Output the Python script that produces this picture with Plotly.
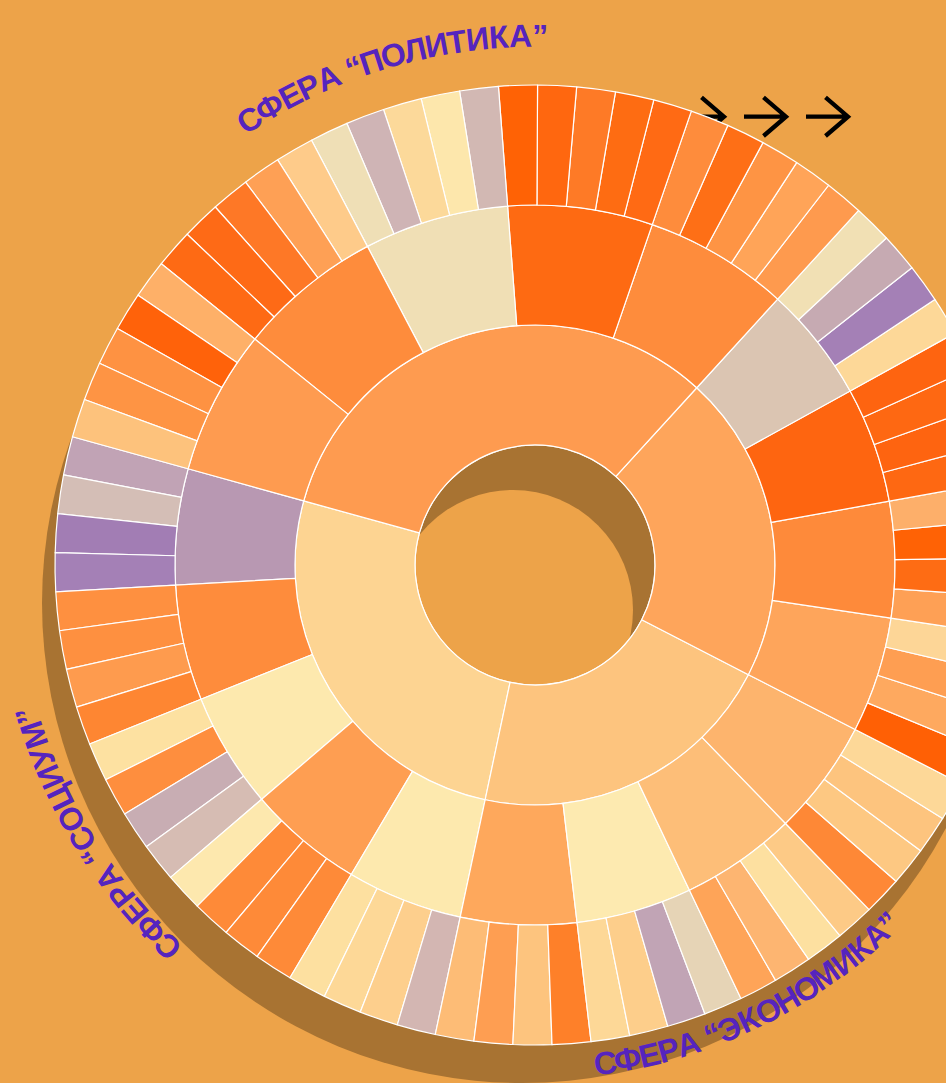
import math
import plotly.graph_objects as go

# ---------------- data (clockwise order, starting at the upper-left) ----------------
sphere_names = ["Политика", "Сфера", "Экономика", "Социум"]
sphere_colors = ["#FE9B50", "#FEA55B", "#FDC47E", "#FDD492"]

group_colors = [
    ["#FE9B50", "#FE8C3C", "#F0DFB5", "#FE6A12", "#FE8C3C"],
    ["#DBC5B2", "#FE6510", "#FE8A3A", "#FEA55B"],
    ["#FDB46D", "#FDBE78", "#FDEAB0", "#FEA85C"],
    ["#FDE9AE", "#FE9E52", "#FDE9AE", "#FE8C3C", "#B898B2"],
]

leaf_colors = [
    [
        ["#FDC27C", "#FE9444", "#FE9242", "#FF620A", "#FEB068"],
        ["#FE6A14", "#FE6A16", "#FE7826", "#FEA055", "#FECB8A"],
        ["#EFDFB6", "#CFB4B5", "#FCD99A", "#FDE7AC", "#D2B8B3"],
        ["#FF6205", "#FF670F", "#FE7A26", "#FE6C12", "#FF6A14"],
        ["#FE8C3C", "#FE6F16", "#FE9444", "#FFA458", "#FE9A4E"],
    ],
    [
        ["#F1E0B4", "#C6AAB2", "#A480B6", "#FDD898"],
        ["#FE6410", "#FE6812", "#FE6410", "#FE6812"],
        ["#FDAF6A", "#FF6205", "#FE6C14", "#FEA055"],
        ["#FDD697", "#FE9E52", "#FEA95F", "#FF6005"],
    ],
    [
        ["#FDD898", "#FDC47E", "#FDC882", "#FE8836"],
        ["#FDCA86", "#FDE0A0", "#FDB571", "#FEA458"],
        ["#E6D4B6", "#C1A4B5", "#FDCE8B", "#FDD897"],
        ["#FE8029", "#FDC47E", "#FE9E52", "#FDBC76"],
    ],
    [
        ["#D3B6B2", "#FDCF8D", "#FDD897", "#FDE0A0"],
        ["#FE8A38", "#FE8A38", "#FE8A38", "#FDE8AE"],
        ["#D6BCB3", "#C8ADB3", "#FE8E3E", "#FDE1A1"],
        ["#FE8632", "#FE9B4E", "#FE9040", "#FE9040"],
        ["#A480B6", "#A27DB4", "#D4BEB6", "#C1A3B5"],
    ],
]

leaf_values = [
    [[1, 1, 1, 1, 1], [1, 1, 1, 1, 1], [1, 1, 1, 1, 1], [1, 1, 1, 1, 1], [1, 1, 1, 1, 1]],
    [[1, 1, 1, 1], [1, 1, 1, 1], [1, 1, 1, 1], [1, 1, 1, 1]],
    [[1, 1, 1, 1], [1, 1, 1, 1], [1, 1, 1, 1], [1, 1, 1, 1]],
    [[1, 1, 1, 1], [1, 1, 1, 1], [1, 1, 1, 1], [1, 1, 1, 1], [1, 1, 1, 1]],
]

sphere_titles = ["СФЕРА “ПОЛИТИКА”", "СФЕРА “СОЦИУМ”", "СФЕРА “ЭКОНОМИКА”"]

# ---------------- layout constants ----------------
W, H = 1040, 1083
CX, CY, R = 535, 565, 480
BG = "#EDA349"
SHADOW = "#A87332"
TEXT_COLOR = "#5524BE"
START_COMPASS = 285.5  # clockwise-from-north angle where the first sector starts

# ---------------- build sunburst (plotly draws counter-clockwise) ----------------
ids, labels, parents, values, colors = ["root"], [""], [""], [0], ["rgba(0,0,0,0)"]
for si in reversed(range(len(sphere_names))):
    sid = f"s{si}"
    ids.append(sid); labels.append(sphere_names[si]); parents.append("root")
    values.append(0); colors.append(sphere_colors[si])
    for gi in reversed(range(len(group_colors[si]))):
        gid = f"{sid}g{gi}"
        ids.append(gid); labels.append(f"{sphere_names[si]} {gi + 1}"); parents.append(sid)
        values.append(0); colors.append(group_colors[si][gi])
        for li in reversed(range(len(leaf_colors[si][gi]))):
            ids.append(f"{gid}l{li}"); labels.append(f"{sphere_names[si]} {gi + 1}.{li + 1}")
            parents.append(gid); values.append(leaf_values[si][gi][li])
            colors.append(leaf_colors[si][gi][li])

rotation = (90 - START_COMPASS) % 360
if rotation > 180:
    rotation -= 360

fig = go.Figure(go.Sunburst(
    ids=ids, labels=labels, parents=parents, values=values,
    branchvalues="remainder", sort=False, rotation=rotation,
    marker=dict(colors=colors, line=dict(color="white", width=1.2)),
    leaf=dict(opacity=1), textinfo="none", hoverinfo="label",
    domain=dict(x=[(CX - R) / W, (CX + R) / W], y=[1 - (CY + R) / H, 1 - (CY - R) / H]),
))


def px(x):
    return x / W


def py(y):
    return 1 - y / H


shapes = [
    dict(type="circle", xref="paper", yref="paper", layer="below",
         x0=px(522 - 480), x1=px(522 + 480), y0=py(603 + 480), y1=py(603 - 480),
         fillcolor=SHADOW, line=dict(width=0)),
    dict(type="circle", xref="paper", yref="paper", layer="below",
         x0=px(513 - 120), x1=px(513 + 120), y0=py(610 + 120), y1=py(610 - 120),
         fillcolor=BG, line=dict(width=0)),
]
for tip in (724, 786, 848):
    path = (f"M {px(tip - 42)},{py(116.7)} L {px(tip)},{py(116.7)} "
            f"M {px(tip - 22.5)},{py(97.3)} L {px(tip)},{py(116.7)} L {px(tip - 22.5)},{py(136)}")
    shapes.append(dict(type="path", xref="paper", yref="paper", layer="below",
                       path=path, line=dict(color="black", width=4.3)))

CW = {'С': 0.722, 'Ф': 0.86, 'Е': 0.667, 'Р': 0.667, 'А': 0.722, ' ': 0.278, '“': 0.5, '”': 0.5,
      'П': 0.722, 'О': 0.778, 'Л': 0.70, 'И': 0.722, 'Т': 0.611, 'К': 0.70, 'Ц': 0.74,
      'У': 0.667, 'М': 0.833, 'Э': 0.722, 'Н': 0.722}


def arc_text(text, th0, th1, r, outward, size=32):
    w = [CW.get(c, 0.7) for c in text]
    centers = []
    acc = 0
    for wi in w:
        centers.append(acc + wi / 2)
        acc += wi
    span = centers[-1] - centers[0]
    out = []
    for ch, c in zip(text, centers):
        if ch == ' ':
            continue
        th = th0 + (c - centers[0]) / span * (th1 - th0)
        t = math.radians(th)
        x = CX + r * math.sin(t)
        y = CY - r * math.cos(t)
        ang = th if outward else th - 180
        ang = (ang + 180) % 360 - 180
        out.append(dict(x=px(x), y=py(y), xref="paper", yref="paper", text=ch,
                        showarrow=False, textangle=ang, xanchor="center", yanchor="middle",
                        font=dict(family="Liberation Sans, Arial, sans-serif", size=size,
                                  color=TEXT_COLOR, weight="bold")))
    return out


annotations = []
annotations += arc_text(sphere_titles[0], 327.3, 360.5, 529, True)
annotations += arc_text(sphere_titles[1], 223.9, 253.5, 529, True)
annotations += arc_text(sphere_titles[2], 172.0, 135.3, 503, False)

fig.update_layout(
    width=W, height=H, margin=dict(l=0, r=0, t=0, b=0),
    paper_bgcolor=BG, plot_bgcolor=BG, showlegend=False,
    shapes=shapes, annotations=annotations,
)

fig.write_html("out.html", post_script=(
    "document.body.style.margin='0';document.body.style.overflow='hidden';"
    "document.documentElement.style.overflow='hidden';"))
